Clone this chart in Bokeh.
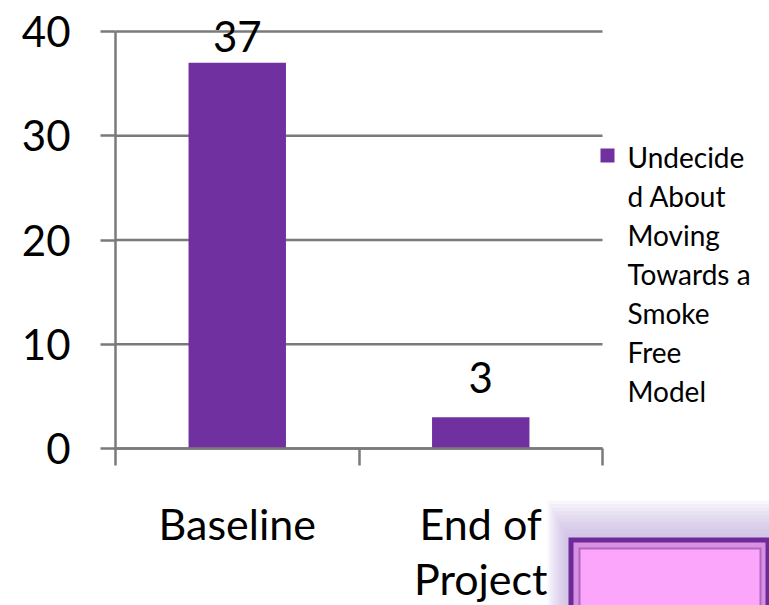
from bokeh.plotting import figure
from bokeh.models import (ColumnDataSource, FixedTicker, LabelSet, Label, Range1d,
                          BoxAnnotation)
from bokeh.core.properties import value
from bokeh.embed import file_html
from bokeh.resources import INLINE

# ---- data ----
categories = ["Baseline", "End of\nProject"]
values = [37, 3]
legend_text = "Undecide\nd About\nMoving\nTowards a\nSmoke\nFree\nModel"
y_ticks = [0, 10, 20, 30, 40]

# ---- style ----
BAR = "#7030a0"
GRID = "#7a7a7a"
FONT = "Lato"
label_offsets = [11, 24]

n = len(categories)
x_centers = [i + 0.5 for i in range(n)]
x_bounds = list(range(n + 1))
y_max = y_ticks[-1]

src = ColumnDataSource(dict(x=x_centers, top=values,
                            label=[str(v) for v in values],
                            yoff=label_offsets))

W, H = 769, 605
# frame covers whole canvas; axes are pinned at zero
x_px = 243.5          # pixels per category
y_px = 10.425         # pixels per unit
x_left_px, y_bottom_px = 115, 448
p = figure(width=W, height=H, output_backend="svg", toolbar_location=None,
           x_range=Range1d(-x_left_px / x_px, (W - x_left_px) / x_px),
           y_range=Range1d(-(H - y_bottom_px) / y_px, y_bottom_px / y_px),
           min_border=0)
p.outline_line_color = None
p.background_fill_color = "white"
p.border_fill_color = "white"
p.xgrid.visible = False
p.ygrid.visible = False

# horizontal gridlines (limited to the plot area)
p.segment(x0=[x_bounds[0]] * len(y_ticks), x1=[x_bounds[-1]] * len(y_ticks),
          y0=y_ticks, y1=y_ticks, line_color=GRID, line_width=2.5)

bars = p.vbar(x="x", top="top", bottom=0, width=0.4, source=src,
              fill_color=BAR, line_color=None)

# y axis
ya = p.yaxis[0]
ya.fixed_location = 0
ya.bounds = (0, y_max)
ya.ticker = FixedTicker(ticks=y_ticks)
ya.axis_line_color = GRID
ya.axis_line_width = 2.5
ya.major_tick_line_color = GRID
ya.major_tick_line_width = 2.5
ya.major_tick_out = 15
ya.major_tick_in = 0
ya.minor_tick_line_color = None
ya.major_label_text_font = FONT
ya.major_label_text_font_size = "42px"
ya.major_label_text_color = "black"
ya.major_label_standoff = 30

# x axis
xa = p.xaxis[0]
xa.fixed_location = 0
xa.bounds = (x_bounds[0], x_bounds[-1])
xa.ticker = FixedTicker(ticks=x_centers, minor_ticks=x_bounds)
xa.axis_line_color = GRID
xa.axis_line_width = 2.5
xa.major_tick_line_color = None
xa.major_tick_out = 0
xa.major_tick_in = 0
xa.minor_tick_line_color = GRID
xa.minor_tick_line_width = 2.5
xa.minor_tick_out = 17
xa.minor_tick_in = 0
xa.major_label_overrides = {c: lab for c, lab in zip(x_centers, categories)}
xa.major_label_text_font = FONT
xa.major_label_text_font_size = "43px"
xa.major_label_text_color = "black"
xa.major_label_text_line_height = 1.08
xa.major_label_standoff = 32

# data labels
labels = LabelSet(x="x", y="top", text="label", y_offset="yoff", source=src,
                  text_align="center", text_baseline="alphabetic",
                  text_font=value(FONT), text_font_size=value("42px"),
                  text_color="black")
p.add_layout(labels)


def sbox(left, top, right, bottom, fill, alpha=1.0, line=None, lw=0):
    """Box in screen pixels measured from the top-left of the canvas."""
    p.add_layout(BoxAnnotation(left=left, right=right, top=H - top, bottom=H - bottom,
                               left_units="screen", right_units="screen",
                               top_units="screen", bottom_units="screen",
                               fill_color=fill, fill_alpha=alpha,
                               line_color=line, line_width=lw, level="overlay"))


# legend (marker + wrapped series name)
sbox(600, 148, 614, 162, BAR)
p.add_layout(Label(x=627, y=H - 139, x_units="screen", y_units="screen",
                   text=legend_text, text_align="left", text_baseline="top",
                   text_font=FONT, text_font_size="28px", text_line_height=1.15,
                   text_color="black"))

# decorative slide element in bottom-right corner
for i in range(10):
    sbox(547 + 2 * i, 500 + 3.6 * i, W + 10, H + 10, "#bfa6dc", 0.09)
sbox(568, 537, W + 10, H + 10, "#6e2a98")
sbox(573, 542, W - 4, H + 10, "#d890e2")
sbox(578, 547, W - 8, H + 10, "#b066c0")
sbox(580, 549, W - 10, H + 10, "#fba6fb")

open("out.html", "w").write(file_html(p, INLINE))
